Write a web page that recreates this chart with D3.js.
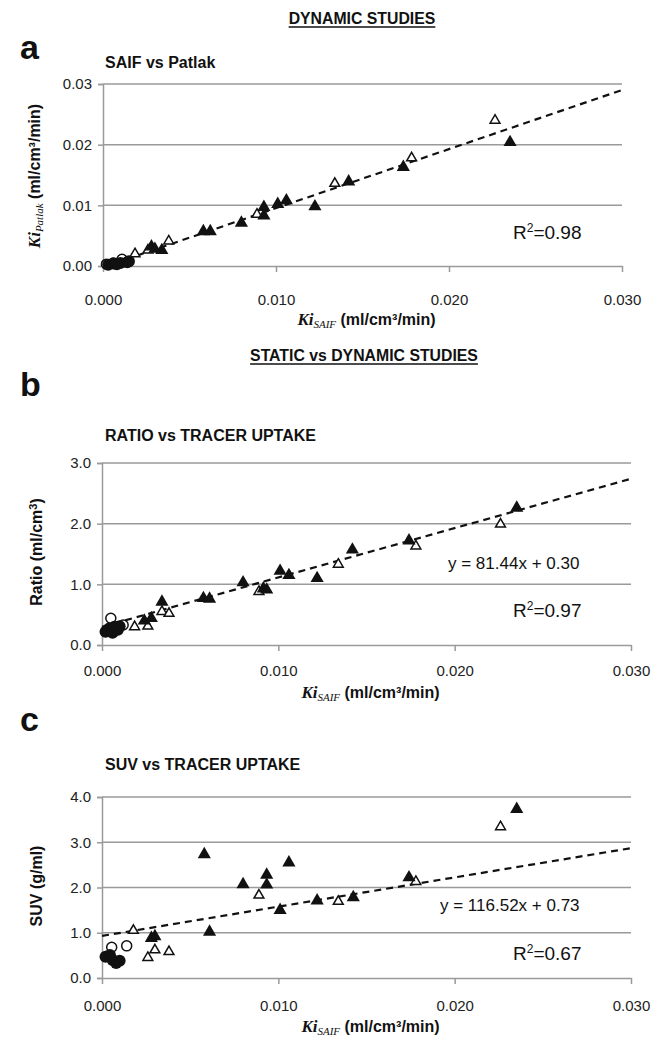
<!DOCTYPE html>
<html><head><meta charset="utf-8">
<script src="https://cdn.jsdelivr.net/npm/d3@7"></script>
<style>
body{margin:0;background:#fff;}
svg{display:block;}
</style></head>
<body><svg id="chart" width="670" height="1039"></svg>
<script>
// ---------- DATA ----------
const xTicks = [0, 0.01, 0.02, 0.03];
const xTickLabels = ["0.000", "0.010", "0.020", "0.030"];

// Panel a: SAIF vs Patlak
const aTicks = [0, 0.01, 0.02, 0.03];
const aTickLabels = ["0.00", "0.01", "0.02", "0.03"];
const aFilledTriX = [0.0028,0.0030,0.0034,0.0058,0.0062,0.0080,0.0093,0.0093,0.0101,0.0106,0.01225,0.0142,0.01736,0.02353];
const aFilledTriY = [0.0032,0.0028,0.0026,0.0057,0.0057,0.0071,0.0097,0.0083,0.0102,0.0108,0.0098,0.0139,0.0163,0.0204];
const aOpenTriX = [0.00185,0.0026,0.0038,0.0089,0.0134,0.01784,0.02266];
const aOpenTriY = [0.0020,0.0026,0.0041,0.0085,0.0136,0.0178,0.0240];
const aOpenCircX = [0.0002,0.0006,0.0011];
const aOpenCircY = [0.0003,0.0005,0.0011];
const aFilledCircX = [0.0003,0.0006,0.0008,0.0010,0.0014,0.0015];
const aFilledCircY = [0.0002,0.0004,0.0003,0.0005,0.0006,0.0008];
const aTrendX = [0, 0.03];
const aTrendY = [-0.0002, 0.0290];

// Panel b: Ratio vs tracer uptake
const bTicks = [0, 1, 2, 3];
const bTickLabels = ["0.0", "1.0", "2.0", "3.0"];
const bFilledTriX = [0.0024,0.0028,0.0034,0.00575,0.0061,0.0080,0.00915,0.00934,0.0101,0.0106,0.0122,0.0142,0.01741,0.02352];
const bFilledTriY = [0.40,0.44,0.71,0.77,0.76,1.03,0.93,0.91,1.22,1.15,1.10,1.57,1.72,2.26];
const bOpenTriX = [0.00185,0.0026,0.0034,0.0038,0.0089,0.0134,0.0178,0.0226];
const bOpenTriY = [0.30,0.31,0.55,0.52,0.88,1.33,1.63,1.99];
const bOpenCircX = [0.0005,0.0012];
const bOpenCircY = [0.44,0.33];
const bFilledCircX = [0.0002,0.0004,0.0007,0.0009,0.0006,0.0010];
const bFilledCircY = [0.22,0.27,0.30,0.25,0.20,0.31];
const bTrendX = [0, 0.03];
const bTrendY = [0.30, 2.74];

// Panel c: SUV vs tracer uptake
const cTicks = [0, 1, 2, 3, 4];
const cTickLabels = ["0.0", "1.0", "2.0", "3.0", "4.0"];
const cFilledTriX = [0.0028,0.0030,0.0058,0.0061,0.0080,0.00934,0.00934,0.0101,0.0106,0.0122,0.01425,0.01741,0.02352];
const cFilledTriY = [0.88,0.92,2.73,1.02,2.07,2.28,2.06,1.50,2.55,1.71,1.78,2.22,3.73];
const cOpenTriX = [0.00178,0.0026,0.0030,0.0038,0.0089,0.0134,0.0178,0.0226];
const cOpenTriY = [1.05,0.45,0.62,0.58,1.83,1.69,2.13,3.34];
const cOpenCircX = [0.00055,0.0014];
const cOpenCircY = [0.68,0.71];
const cFilledCircX = [0.0002,0.00045,0.0006,0.0008,0.0010];
const cFilledCircY = [0.47,0.51,0.40,0.33,0.38];
const cTrendX = [0, 0.03];
const cTrendY = [0.93, 2.87];

// ---------- DRAWING ----------
const svg = d3.select("#chart");
const SANS = "'Liberation Sans', Arial, sans-serif";
const NARROW = "'Liberation Sans Narrow', 'Liberation Sans', Arial, sans-serif";
const SERIF = "'Liberation Serif', 'Times New Roman', serif";
const GRID = "#9a9a9a";

function heading(text, cx, y) {
  const t = svg.append("text").attr("x", cx).attr("y", y)
    .attr("text-anchor", "middle").attr("font-family", NARROW)
    .attr("font-weight", "bold").attr("font-size", 17).attr("fill", "#111").text(text);
  const w = t.node().getComputedTextLength();
  const target = w * 0.93;
  t.attr("textLength", target).attr("lengthAdjust", "spacingAndGlyphs");
  svg.append("line").attr("x1", cx - target / 2).attr("x2", cx + target / 2)
    .attr("y1", y + 3).attr("y2", y + 3).attr("stroke", "#111").attr("stroke-width", 1.5);
}
function letter(text, x, y) {
  svg.append("text").attr("x", x).attr("y", y).attr("font-family", SANS)
    .attr("font-weight", "bold").attr("font-size", 34).attr("fill", "#111").text(text);
}
function subtitle(text, x, y) {
  svg.append("text").attr("x", x).attr("y", y).attr("font-family", NARROW)
    .attr("font-weight", "bold").attr("font-size", 16).attr("fill", "#111").text(text);
}

function panel(p) {
  const x = d3.scaleLinear().domain([0, 0.03]).range([p.x0, p.x1]);
  const y = d3.scaleLinear().domain(p.yDomain).range([p.y0, p.y1]);
  const g = svg.append("g");

  // gridlines (horizontal)
  g.append("g").selectAll("line").data(p.yTicks.filter(v => v !== p.yDomain[0]))
    .join("line").attr("x1", p.x0).attr("x2", p.x1)
    .attr("y1", d => y(d)).attr("y2", d => y(d))
    .attr("stroke", GRID).attr("stroke-width", 1.5);

  // y axis
  const yAxis = d3.axisLeft(y).tickValues(p.yTicks)
    .tickFormat((d, i) => p.yTickLabels[i]).tickSize(5).tickPadding(6);
  const ya = g.append("g").attr("transform", `translate(${p.x0},0)`).call(yAxis);
  ya.select(".domain").attr("stroke", GRID).attr("stroke-width", 1.5);
  ya.selectAll(".tick line").attr("stroke", GRID).attr("stroke-width", 1.5);
  ya.selectAll(".tick text").attr("font-family", SANS).attr("font-size", 15).attr("fill", "#222");

  // x axis
  const xAxis = d3.axisBottom(x).tickValues(xTicks)
    .tickFormat((d, i) => xTickLabels[i]).tickSize(6).tickSizeOuter(0).tickPadding(p.xPad);
  const xa = g.append("g").attr("transform", `translate(0,${p.y0})`).call(xAxis);
  xa.select(".domain").attr("stroke", GRID).attr("stroke-width", 1.5);
  xa.selectAll(".tick line").attr("stroke", GRID).attr("stroke-width", 1.5);
  xa.selectAll(".tick text").attr("font-family", SANS).attr("font-size", 15).attr("fill", "#222");

  // trend line
  const line = d3.line().x(d => x(d[0])).y(d => y(d[1]));
  g.append("path").datum(p.trendX.map((v, i) => [v, p.trendY[i]]))
    .attr("d", line).attr("fill", "none").attr("stroke", "#111")
    .attr("stroke-width", 2.2).attr("stroke-dasharray", "7,5");

  const tri = d3.symbol().type(d3.symbolTriangle);
  // open circles
  g.append("g").selectAll("circle").data(p.ocX.map((v, i) => [v, p.ocY[i]])).join("circle")
    .attr("cx", d => x(d[0])).attr("cy", d => y(d[1])).attr("r", 5)
    .attr("fill", "#fff").attr("stroke", "#111").attr("stroke-width", 1.5);
  // filled circles
  g.append("g").selectAll("circle").data(p.fcX.map((v, i) => [v, p.fcY[i]])).join("circle")
    .attr("cx", d => x(d[0])).attr("cy", d => y(d[1])).attr("r", 6)
    .attr("fill", "#111");
  // open triangles
  g.append("g").selectAll("path").data(p.otX.map((v, i) => [v, p.otY[i]])).join("path")
    .attr("d", tri.size(42)()).attr("transform", d => `translate(${x(d[0])},${y(d[1])})`)
    .attr("fill", "#fff").attr("stroke", "#111").attr("stroke-width", 1.5);
  // filled triangles
  g.append("g").selectAll("path").data(p.ftX.map((v, i) => [v, p.ftY[i]])).join("path")
    .attr("d", tri.size(75)()).attr("transform", d => `translate(${x(d[0])},${y(d[1])})`)
    .attr("fill", "#111");

  // x title
  const xt = svg.append("text").attr("x", (p.x0 + p.x1) / 2 + 4).attr("y", p.y0 + p.xtOff)
    .attr("text-anchor", "middle").attr("fill", "#111");
  xt.append("tspan").attr("font-family", SERIF).attr("font-style", "italic")
    .attr("font-weight", "bold").attr("font-size", 17).text("Ki");
  xt.append("tspan").attr("font-family", SERIF).attr("font-style", "italic")
    .attr("font-size", 11).attr("dy", 3).text("SAIF");
  xt.append("tspan").attr("font-family", NARROW).attr("font-weight", "bold")
    .attr("font-size", 16).attr("dy", -3).text(" (ml/cm³/min)");

  // y title
  const yt = svg.append("text").attr("transform", `translate(${p.ytX},${p.ytY}) rotate(-90)`)
    .attr("text-anchor", "middle").attr("fill", "#111");
  p.yTitle(yt);

  // R2 & equation
  if (p.eq) {
    svg.append("text").attr("x", p.eqX).attr("y", p.eqY).attr("font-family", SANS)
      .attr("font-size", 17).attr("fill", "#111").text(p.eq);
  }
  const r = svg.append("text").attr("x", 513).attr("y", p.r2Y).attr("font-family", SANS)
    .attr("font-size", 19).attr("fill", "#111");
  r.append("tspan").text("R");
  r.append("tspan").attr("font-size", 12).attr("dy", -7).text("2");
  r.append("tspan").attr("dy", 7).text("=" + p.r2);
}

// Panel a
heading("DYNAMIC STUDIES", 362, 24);
letter("a", 20, 59);
subtitle("SAIF vs Patlak", 105, 68);
panel({
  x0: 103, x1: 622, y0: 266, y1: 84, yDomain: [0, 0.03],
  yTicks: aTicks, yTickLabels: aTickLabels, xPad: 22, xtOff: 59,
  ftX: aFilledTriX, ftY: aFilledTriY, otX: aOpenTriX, otY: aOpenTriY,
  ocX: aOpenCircX, ocY: aOpenCircY, fcX: aFilledCircX, fcY: aFilledCircY,
  trendX: aTrendX, trendY: aTrendY,
  ytX: 40, ytY: 176,
  yTitle: t => {
    t.append("tspan").attr("font-family", SERIF).attr("font-style", "italic")
      .attr("font-weight", "bold").attr("font-size", 17).text("Ki");
    t.append("tspan").attr("font-family", SERIF).attr("font-style", "italic")
      .attr("font-size", 11).attr("dy", 3).text("Patlak");
    t.append("tspan").attr("font-family", NARROW).attr("font-weight", "bold")
      .attr("font-size", 16).attr("dy", -3).text(" (ml/cm³/min)");
  },
  r2: "0.98", r2Y: 239
});

// Panel b
heading("STATIC vs DYNAMIC STUDIES", 364, 361);
letter("b", 20, 396);
subtitle("RATIO vs TRACER UPTAKE", 105, 441);
panel({
  x0: 102, x1: 631, y0: 645, y1: 463, yDomain: [0, 3],
  yTicks: bTicks, yTickLabels: bTickLabels, xPad: 14, xtOff: 53,
  ftX: bFilledTriX, ftY: bFilledTriY, otX: bOpenTriX, otY: bOpenTriY,
  ocX: bOpenCircX, ocY: bOpenCircY, fcX: bFilledCircX, fcY: bFilledCircY,
  trendX: bTrendX, trendY: bTrendY,
  ytX: 42, ytY: 552,
  yTitle: t => {
    t.attr("font-family", NARROW).attr("font-weight", "bold").attr("font-size", 16);
    t.append("tspan").text("Ratio (ml/cm");
    t.append("tspan").attr("font-size", 11).attr("dy", -5).text("3");
    t.append("tspan").attr("dy", 5).text(")");
  },
  eq: "y = 81.44x + 0.30", eqX: 448, eqY: 569,
  r2: "0.97", r2Y: 617
});

// Panel c
letter("c", 20, 731);
subtitle("SUV vs TRACER UPTAKE", 105, 770);
panel({
  x0: 102, x1: 631, y0: 978, y1: 797, yDomain: [0, 4],
  yTicks: cTicks, yTickLabels: cTickLabels, xPad: 16, xtOff: 54,
  ftX: cFilledTriX, ftY: cFilledTriY, otX: cOpenTriX, otY: cOpenTriY,
  ocX: cOpenCircX, ocY: cOpenCircY, fcX: cFilledCircX, fcY: cFilledCircY,
  trendX: cTrendX, trendY: cTrendY,
  ytX: 42, ytY: 886,
  yTitle: t => {
    t.attr("font-family", NARROW).attr("font-weight", "bold").attr("font-size", 16).text("SUV (g/ml)");
  },
  eq: "y = 116.52x + 0.73", eqX: 440, eqY: 911,
  r2: "0.67", r2Y: 960
});
</script></body></html>
